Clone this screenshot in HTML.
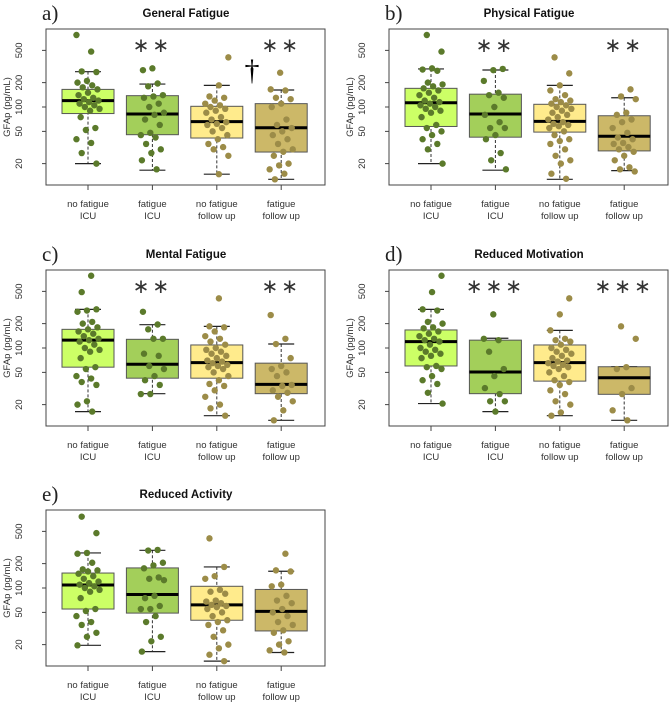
<!DOCTYPE html>
<html><head><meta charset="utf-8"><style>
body{margin:0;background:#fff;}
svg{display:block;font-family:"Liberation Sans",sans-serif;}
</style></head><body>
<svg id="chart" width="671" height="703" viewBox="0 0 671 703" xmlns="http://www.w3.org/2000/svg"></svg>
<script>
const categories=[["no fatigue","ICU"],["fatigue","ICU"],["no fatigue","follow up"],["fatigue","follow up"]];
const yTicks=[20,50,100,200,500];
const panelTitles=["General Fatigue","Physical Fatigue","Mental Fatigue","Reduced Motivation","Reduced Activity"];
const panelLetters=["a)","b)","c)","d)","e)"];
const panelSig=[["","**","","**"],["","**","","**"],["","**","","**"],["","***","","***"],["","","",""]];
// box stats per panel per group: [whiskerLow,q1,median,q3,whiskerHigh]
const statsA=[[20,83,120,165,273],[16.6,45.5,82,138,192],[14.8,41.4,66,102,185],[12.8,27.8,55.5,110,162]];
const statsB=[[20,57.5,113,170,295],[16.6,42.4,82,144,286],[12.8,49,66.5,108,185],[16.4,28.7,43.6,78,130]];
const statsC=[[16.4,58,125,170,300],[27.3,42.4,63,128,194],[14.6,42.4,66,109,185],[12.8,27.3,35.6,65,112]];
const statsD=[[20.6,60,120,167,300],[16.4,27.3,50.6,125,132],[14.6,39,66,109,165],[12.8,26.8,43,58.7,59]];
const statsE=[[19.6,55,109,153,271],[16.4,49,83,177,292],[12.5,40,62,105,182],[16,29.5,51.5,96,161]];
const pointsA=[[774,483,275,270,210,200,185,175,165,150,140,130,125,120,115,110,105,100,95,90,75,55,52,40,36,27,20],
[300,285,195,180,140,135,130,110,100,85,80,70,60,48,45,42,35,30,27,22,17],
[410,185,135,130,120,110,105,100,95,90,85,75,70,65,62,60,55,50,45,40,35,32,30,25,14.8],
[265,165,160,130,125,110,100,70,60,55,50,45,40,35,30,28,25,20,19,17,15,12.8]];
const pointsB=[[774,483,300,290,280,200,190,180,170,160,150,140,130,120,115,110,105,100,95,90,85,75,60,55,50,45,40,35,30,20],
[295,285,210,150,140,130,100,80,65,55,55,45,40,27,22,17],
[410,260,185,160,140,125,120,115,110,105,100,95,90,85,80,75,70,65,62,60,58,55,50,45,40,38,35,30,25,22,20,15,13],
[165,135,125,85,80,70,65,55,48,42,40,36,35,32,30,28,25,22,18,17,16]];
const pointsC=[[780,490,300,290,280,210,200,180,170,160,150,140,130,125,120,110,100,95,90,75,58,55,45,42,38,35,22,20,16.4],
[280,195,170,130,130,85,80,60,55,45,40,35,27,27],
[410,185,180,160,140,130,120,110,100,95,90,85,80,75,70,68,65,62,60,58,55,50,45,40,36,34,30,25,20,18,14.6],
[255,130,112,75,60,55,50,45,35,34,30,28,25,22,17,12.8]];
const pointsD=[[780,490,300,290,210,200,180,175,160,150,140,130,125,120,110,100,95,90,85,80,75,60,58,55,45,40,36,28,20.6],
[260,130,125,90,55,45,32,27,22,22,16.4],
[410,260,165,130,125,120,110,100,95,90,85,80,75,70,68,65,62,60,58,55,50,45,40,38,35,30,27,22,20,16,14.6],
[185,130,58,55,32,27,17,12.8]];
const pointsE=[[760,476,271,265,205,170,165,160,150,140,130,120,115,110,105,100,95,90,75,55,52,45,38,35,28,25,19.6],
[295,290,205,190,175,135,130,125,80,75,60,55,55,45,38,25,22,16.4],
[410,182,140,130,95,90,85,70,68,65,62,60,58,55,50,45,40,38,35,30,25,20,18,15,12.5],
[265,165,160,110,105,80,70,65,55,50,45,38,35,30,28,22,20,17,16]];

const allStats=[statsA,statsB,statsC,statsD,statsE];
const allPoints=[pointsA,pointsB,pointsC,pointsD,pointsE];
const origins=[[0,0],[343,0],[0,241],[343,241],[0,481]];
const boxFill=["#ccff66","#a3cf5a","#ffeb8c","#ccb868"];
const ptFill=["#5b7a2b","#5b7a2b","#9c8c48","#9c8c48"];
const NS="http://www.w3.org/2000/svg";
const svg=document.getElementById("chart");
function mk(tag,attrs,parent){const e=document.createElementNS(NS,tag);for(const k in attrs)e.setAttribute(k,attrs[k]);(parent||svg).appendChild(e);return e;}
const PL=46,PR=325,PT=29,PB=185;
function yScale(v){return 107-81*Math.log10(v/100);}
function xScale(i){return 88+i*64.4;}
const BW=52;

allStats.forEach((stats,p)=>{
  const [ox,oy]=origins[p];
  const g=mk("g",{transform:`translate(${ox},${oy})`});
  
  
  const lt=mk("text",{x:42,y:20,"font-family":"Liberation Serif,serif","font-size":21,fill:"#222"},g);
  lt.textContent=panelLetters[p];
  
  
  const tt=mk("text",{x:186,y:17,"text-anchor":"middle","font-size":11.5,"font-weight":"bold",fill:"#111"},g);
  tt.textContent=panelTitles[p];
  
  
  // y axis
  yTicks.forEach(t=>{
    const y=yScale(t);
    const l=mk("line",{x1:PL-4,x2:PL,y1:y,y2:y,stroke:"#444","stroke-width":1},g);
    
    
    const tx=mk("text",{x:0,y:0,transform:`translate(22,${y}) rotate(-90)`,"text-anchor":"middle","font-size":9.5,fill:"#333"},g);
    tx.textContent=t;
    
    
  });
  const yl=mk("text",{x:0,y:0,transform:`translate(10,107) rotate(-90)`,"text-anchor":"middle","font-size":9.5,fill:"#333"},g);
  yl.textContent="GFAp (pg/mL)";
  
  
  categories.forEach((c,i)=>{
    const x=xScale(i);
    const l=mk("line",{x1:x,x2:x,y1:PB,y2:PB+5,stroke:"#444","stroke-width":1},g);
    
    
    c.forEach((s,k)=>{
      const tx=mk("text",{x:x,y:207+k*12,"text-anchor":"middle","font-size":9.5,fill:"#333"},g);
      tx.textContent=s;
      
      
    });
  });
  stats.forEach((s,i)=>{
    const x=xScale(i);
    const [lo,q1,md,q3,hi]=s;
    const w=mk("line",{x1:x,x2:x,y1:yScale(hi),y2:yScale(lo),stroke:"#333","stroke-width":1,"stroke-dasharray":"3,2"},g);
    
    
    [lo,hi].forEach(v=>{
      const c=mk("line",{x1:x-13,x2:x+13,y1:yScale(v),y2:yScale(v),stroke:"#222","stroke-width":1.2},g);
      
      
    });
    const r=mk("rect",{x:x-BW/2,y:yScale(q3),width:BW,height:yScale(q1)-yScale(q3),fill:boxFill[i],stroke:"#555","stroke-width":1},g);
    
    
    const m=mk("line",{x1:x-BW/2,x2:x+BW/2,y1:yScale(md),y2:yScale(md),stroke:"#000","stroke-width":3},g);
    
    
    allPoints[p][i].forEach((v,k)=>{
      const jit=(((k*37+i*11+p*7)%23)-11)*1.05;
      const pt=mk("circle",{cx:x+jit,cy:yScale(v),r:3.2,fill:ptFill[i]},g);
      
      
    });
    const sig=panelSig[p][i];
    if(sig){
      const st=mk("text",{x:x,y:52,"text-anchor":"middle","font-size":20,fill:"#333","letter-spacing":"3"},g);
      st.textContent=sig.replace(/\*/g,"∗");
      
      
    }
  });
  if(p===0){
    const dg=mk("text",{x:252,y:80,"text-anchor":"middle","font-size":30,"font-family":"Liberation Serif,serif",fill:"#000"},g);
    dg.textContent="†";
    
    
  }
  const fr=mk("rect",{x:PL,y:PT,width:PR-PL,height:PB-PT,fill:"none",stroke:"#444","stroke-width":1},g);
  
  
});
</script>
</body></html>
